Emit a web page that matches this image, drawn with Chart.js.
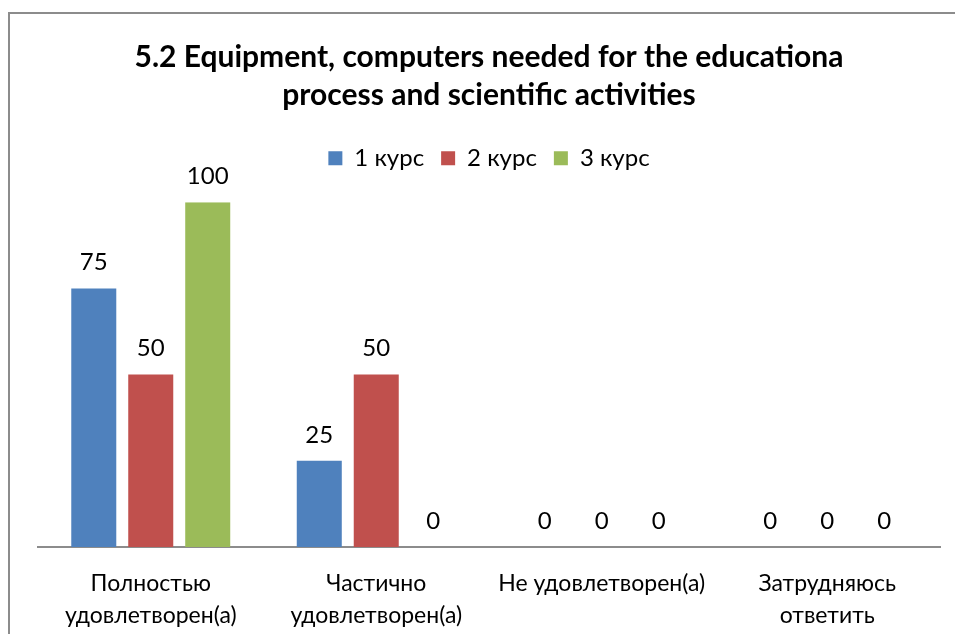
<!DOCTYPE html>
<html>
<head>
<meta charset="utf-8">
<script src="https://cdn.jsdelivr.net/npm/chart.js@4.4.0/dist/chart.umd.min.js"></script>
<style>
  html, body { margin: 0; padding: 0; background: #fff; overflow: hidden; }
  #frame { position: absolute; left: 8px; top: 12px; width: 960px; height: 640px; border: 2px solid #8c8c8c; box-sizing: border-box; }
  #wrap { position: absolute; left: 0; top: 0; width: 955px; height: 634px; }
</style>
</head>
<body>
<div id="frame"></div>
<div id="wrap"><canvas id="grafico"></canvas></div>
<script>
// данные диаграммы
const categorias = [
  ['Полностью', 'удовлетворен(а)'],
  ['Частично', 'удовлетворен(а)'],
  'Не удовлетворен(а)',
  ['Затрудняюсь', 'ответить']
];
const curso1 = [75, 25, 0, 0];
const curso2 = [50, 50, 0, 0];
const curso3 = [100, 0, 0, 0];
const nomesSeries = ['1 курс', '2 курс', '3 курс'];
const cores = ['#4F81BD', '#C0504D', '#9BBB59'];

const FONTE = 'Lato, "Open Sans", sans-serif';

// rótulos de valor acima das barras
const rotulosPlugin = {
  id: 'rotulos',
  afterDatasetsDraw(chart) {
    const ctx = chart.ctx;
    ctx.save();
    ctx.font = '24px ' + FONTE;
    ctx.fillStyle = '#000';
    ctx.textAlign = 'center';
    ctx.textBaseline = 'middle';
    chart.data.datasets.forEach((ds, i) => {
      chart.getDatasetMeta(i).data.forEach((bar, j) => {
        ctx.fillText(String(ds.data[j]), bar.x, bar.y - 26);
      });
    });
    ctx.restore();
  }
};

// espaço extra abaixo da legenda
const legendaPlugin = {
  id: 'legendaEspaco',
  beforeInit(chart) {
    const fitOrig = chart.legend.fit;
    chart.legend.fit = function () {
      fitOrig.bind(chart.legend)();
      this.height += 22;
    };
  }
};

new Chart(document.getElementById('grafico'), {
  type: 'bar',
  data: {
    labels: categorias,
    datasets: [
      { label: nomesSeries[0], data: curso1, backgroundColor: cores[0] },
      { label: nomesSeries[1], data: curso2, backgroundColor: cores[1] },
      { label: nomesSeries[2], data: curso3, backgroundColor: cores[2] }
    ]
  },
  options: {
    responsive: true,
    maintainAspectRatio: false,
    animation: false,
    layout: { padding: { left: 38, right: 15, top: 38, bottom: 0 } },
    datasets: { bar: { categoryPercentage: 0.758, barPercentage: 0.79 } },
    plugins: {
      title: {
        display: true,
        text: ['5.2 Equipment, computers needed for the educationa', 'process and scientific activities'],
        color: '#000',
        font: { family: FONTE, size: 30, weight: 'bold', lineHeight: 1.27 },
        padding: { top: 0, bottom: 15 }
      },
      legend: {
        position: 'top',
        labels: {
          color: '#000',
          font: { family: FONTE, size: 24 },
          boxWidth: 14,
          boxHeight: 14,
          padding: 17
        }
      },
      tooltip: { enabled: false }
    },
    scales: {
      x: {
        grid: { display: false, drawTicks: false },
        border: { display: true, color: '#8c8c8c', width: 2 },
        ticks: { color: '#000', font: { family: FONTE, size: 23, lineHeight: 1.4 }, padding: 20, maxRotation: 0, autoSkip: false },
        afterFit(scale) { scale.height = 87; }
      },
      y: { display: false, min: 0, max: 100 }
    }
  },
  plugins: [rotulosPlugin, legendaPlugin]
});
</script>
</body>
</html>
